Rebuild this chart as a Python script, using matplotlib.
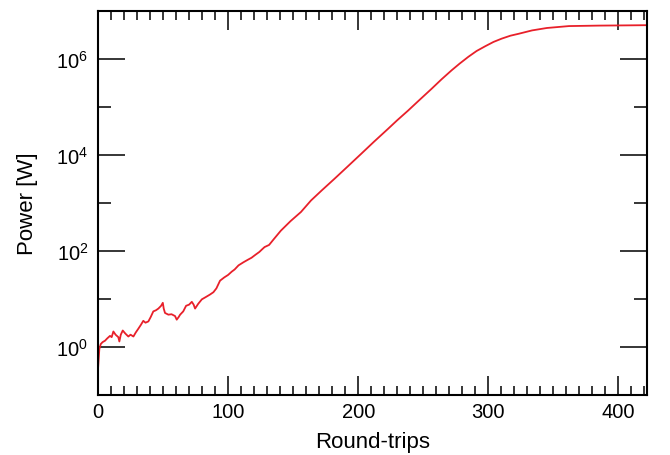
import math
import matplotlib
matplotlib.use("Agg")
import matplotlib.pyplot as plt
from matplotlib.ticker import FixedLocator, NullFormatter, FuncFormatter, MultipleLocator

# round-trip number and intracavity power
round_trips = [0, 1.0, 2.1, 3.5, 5.4, 7.0, 9.2, 10.5, 11.8, 13.5, 15.6, 16.4, 17.5, 19, 21,
               23.3, 25, 27.2, 29, 31, 33, 34.8, 36.5, 38.7, 40.5, 42.5, 44.5, 46.4, 48.5,
               49.8, 50.5, 51.5, 54.1, 56.5, 59.2, 60.5, 62, 63.1, 65.5, 67.7, 70, 72.1,
               73.5, 74.6, 77, 79.8, 83, 86, 88.7, 91, 93.8, 97, 100, 102.8, 105, 108,
               111.8, 115, 118, 121, 124, 126, 128, 131.5, 135, 140.5, 148, 156, 163.7,
               172, 181.7, 192, 202.3, 212, 222.9, 230, 238.3, 247, 256.4, 264, 271.8,
               278, 284.7, 291, 297.6, 304, 310.4, 317, 323.3, 333.6, 345, 362, 385, 405, 422]
power = [0.35, 0.9, 1.15, 1.26, 1.35, 1.5, 1.7, 1.6, 2.1, 1.8, 1.6, 1.3, 1.8, 2.2, 1.9,
         1.65, 1.8, 1.65, 2.0, 2.4, 2.9, 3.5, 3.2, 3.4, 4.2, 5.5, 5.8, 6.3, 7.2,
         8.3, 6.3, 5.1, 4.7, 4.8, 4.4, 3.7, 4.2, 4.7, 5.5, 7.2, 7.6, 8.7,
         7.6, 6.3, 7.9, 9.8, 11, 12.3, 13.8, 16.6, 24, 28, 31.6, 37, 41, 50,
         58, 65, 72, 83, 95, 107, 120, 133, 174, 263, 417, 646, 1120,
         1820, 3160, 5750, 10500, 18600, 34700, 52500, 83200, 138000, 237000, 372000, 575000,
         794000, 1.1e6, 1.45e6, 1.82e6, 2.24e6, 2.63e6, 3.02e6, 3.31e6, 3.89e6, 4.37e6,
         4.79e6, 4.9e6, 4.95e6, 5.0e6]

y_major = [1e0, 1e2, 1e4, 1e6]
y_minor = [1e1, 1e3, 1e5]

plt.rcParams["font.family"] = ["Liberation Sans", "DejaVu Sans"]
plt.rcParams["mathtext.default"] = "regular"

fig = plt.figure(figsize=(6.7, 4.56), dpi=100)
ax = fig.add_axes([0.1463, 0.1316, 0.8194, 0.8427])

ax.plot(round_trips, power, color="#e8202a", linewidth=1.3)

ax.set_yscale("log")
ax.set_xlim(0, 422)
ax.set_ylim(0.1, 1e7)

ax.xaxis.set_major_locator(MultipleLocator(100))
ax.xaxis.set_minor_locator(MultipleLocator(10))
ax.yaxis.set_major_locator(FixedLocator(y_major))
ax.yaxis.set_minor_locator(FixedLocator(y_minor))
ax.yaxis.set_major_formatter(FuncFormatter(lambda v, p: r"$10^{%d}$" % round(math.log10(v))))
ax.yaxis.set_minor_formatter(NullFormatter())

ax.tick_params(axis="both", which="both", direction="in", top=True, right=True,
               width=1.1, color="black", labelsize=14.5)
ax.tick_params(axis="x", which="major", length=14, pad=5)
ax.tick_params(axis="x", which="minor", length=6.5)
ax.tick_params(axis="y", which="major", length=19.5, pad=7)
ax.tick_params(axis="y", which="minor", length=9.5)

for s in ax.spines.values():
    s.set_linewidth(1.5)

ax.set_xlabel("Round-trips", fontsize=16, labelpad=7)
ax.set_ylabel("Power [W]", fontsize=16, labelpad=13)

fig.savefig("out.png", dpi=100)
